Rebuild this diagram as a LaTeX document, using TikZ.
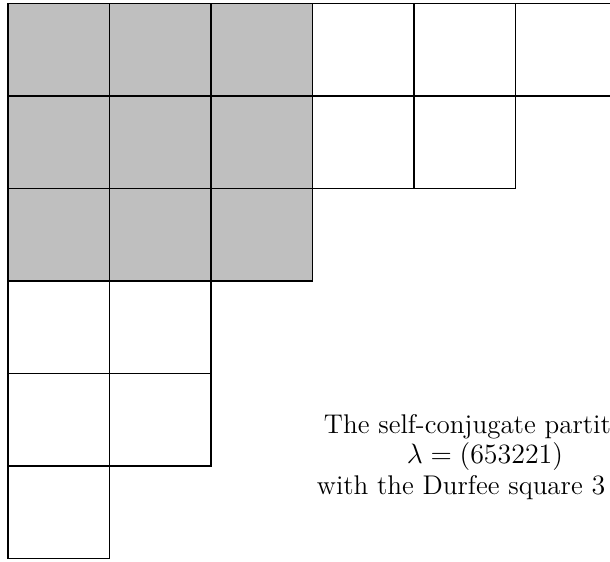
\documentclass[tikz,border=0pt]{standalone}
\usepackage{amsmath}
\usepackage{tikz}

\begin{document}
\begin{tikzpicture}[x=43.56pt, y=-39.7pt, line width=0.8pt,
  cell/.style={rectangle, draw, inner sep=0pt, minimum width=43.56pt, minimum height=39.7pt},
  durfee/.style={cell, fill=lightgray}]

  \useasboundingbox (-0.0788,-0.0378) rectangle (5.931,6.027);

  % rows of the Young diagram, the 3x3 Durfee square shaded
  \foreach \r/\len in {1/6,2/5,3/3,4/2,5/2,6/1} {
    \foreach \c in {1,...,\len} {
      \pgfmathtruncatemacro\indurfee{and(\r<4,\c<4)}
      \ifnum\indurfee=1 \def\boxstyle{durfee}\else\def\boxstyle{cell}\fi
      \node[\boxstyle] (b\r\c) at (\c-0.5,\r-0.5) {};
    }
  }

  \node[align=center, font=\fontsize{11.6pt}{13.1pt}\selectfont] (caption) at (4.70,4.90)
    {The self-conjugate partition\\ $\lambda = (653221)$\\ with the Durfee square $3\times 3$};

\end{tikzpicture}
\end{document}
